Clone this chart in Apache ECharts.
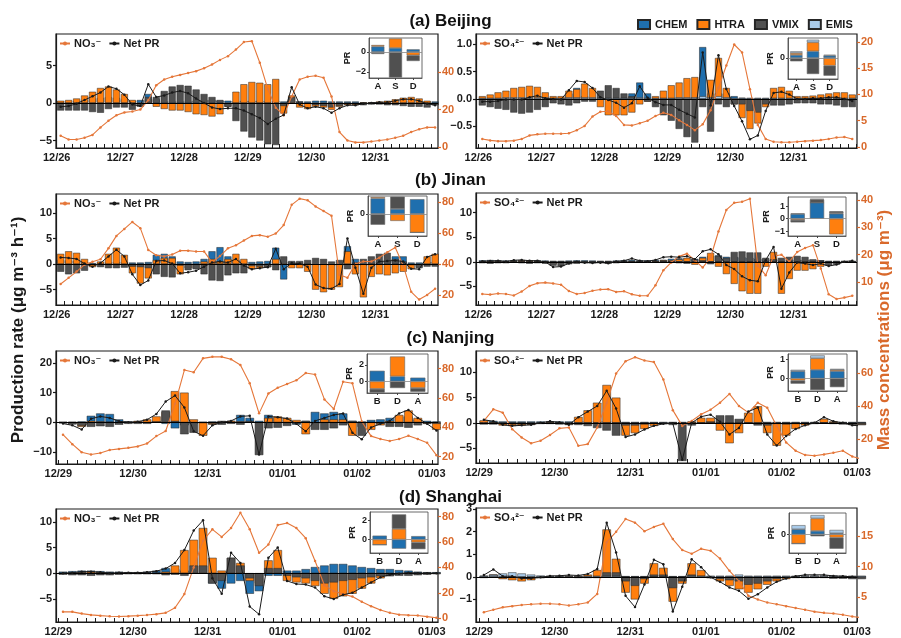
<!DOCTYPE html>
<html>
<head>
<meta charset="utf-8">
<script src="https://cdn.jsdelivr.net/npm/echarts@6/dist/echarts.min.js"></script>
<style>
html,body{margin:0;padding:0;background:#fff;}
#chart{width:901px;height:638px;}
</style>
</head>
<body>
<div id="chart"></div>
<script>
// ---------- tick labels ----------
const DAYS_DEC26 = ['12/26','12/27','12/28','12/29','12/30','12/31'];
const DAYS_DEC29 = ['12/29','12/30','12/31','01/01','01/02','01/03'];
const SITES_NORTH = ['A','S','D'];
const SITES_SOUTH = ['B','D','A'];

// ---------- Beijing, 3-hourly process rates (µg m-3 h-1) and mass concentration (µg m-3) ----------
const bjNo3Chem = [0.2,0.2,0.3,0.4,0.6,0.7,0.8,0.7,0.5,0.3, 0.4,1.2,0.5,0.2,0.2,0.2,0.2,0.3,0.4,0.4, 0.3,0.3,0.2,0.3,0.3,0.3,0.2,0.3,0.2,0.3, 0.2,0.2,0.3,0.3,0.2,0.2,0.2,0.2,0.1,0.1, 0.1,0.1,0.1,0.2,0.2,0.2,0.2,0.2];
const bjNo3Htra = [0.3,0.4,0.6,1.0,1.5,2.0,2.2,1.8,1.2,0.4, -0.3,0.5,-0.5,-0.8,-1.0,-1.0,-1.2,-1.5,-1.6,-1.8, -1.5,-0.5,1.5,2.5,2.8,2.7,2.5,3.2,-1.4,1.0, -0.6,-0.8,-0.5,-0.6,-0.9,-0.5,-0.3,-0.3,0.1,0.1, 0.2,0.3,0.5,0.7,0.8,0.6,0.3,-0.2];
const bjNo3Vmix = [-1.0,-1.0,-1.0,-1.0,-1.2,-1.3,-0.8,-0.6,-0.6,-0.9, -0.5,0.8,0.8,1.6,2.2,2.4,2.3,1.8,1.2,0.8, 0.4,-0.5,-2.4,-3.8,-4.6,-5.0,-5.5,-5.6,-0.4,0.8, 0.2,-0.1,-0.3,-0.4,-0.6,-0.4,-0.2,-0.2,-0.3,-0.2, -0.2,-0.3,-0.3,-0.4,-0.5,-0.5,-0.6,-0.3];
const bjNo3Conc = [6,4,4,5,6.5,10.5,14,17,18.5,19, 20,25,33,36,37.5,38.5,39.5,40.5,42,44, 46.5,48.5,52,56,56.5,45,31,21,17,27, 36,37.5,38,37,27,8,3.5,2.5,2.5,3, 3.5,4,5,6,8,9.5,10.5,10.5];

const bjSo4Chem = [0,0,0,0.01,0.01,0.01,0.01,0.01,0.01,0.01, 0.02,0.1,0.2,0.05,0.02,0.01,0.01,0.01,0.02,0.1, 0.3,0.1,0.02,0.02,0.02,0.02,0.02,0.03,0.95,0.1, 0.1,0.1,0.05,0.02,0.01,0.01,0.01,0.01,0.01,0.01, 0.01,0.01,0.01,0.01,0.01,0.01,0.01,0.01];
const bjSo4Htra = [0.05,0.08,0.12,0.15,0.2,0.22,0.24,0.22,0.12,0.05, 0.05,0.15,0.18,0.28,0.2,-0.15,-0.3,-0.3,-0.3,-0.25, -0.1,-0.05,0.05,0.15,0.25,0.3,0.38,0.4,0.0,0.35, 0.75,0.2,-0.1,-0.35,-0.55,-0.45,-0.15,0.2,0.22,0.15, 0.05,0.05,0.06,0.08,0.1,0.12,0.12,0.08];
const bjSo4Vmix = [-0.12,-0.15,-0.18,-0.2,-0.25,-0.27,-0.25,-0.2,-0.15,-0.08, -0.1,-0.12,-0.08,-0.05,-0.05,0.15,0.25,0.2,0.1,0.05, 0.0,-0.05,-0.15,-0.3,-0.4,-0.55,-0.7,-0.8,-0.15,-0.6, -0.1,-0.15,-0.1,-0.1,-0.22,-0.25,-0.1,-0.12,-0.12,-0.1, -0.08,-0.08,-0.08,-0.1,-0.1,-0.12,-0.15,-0.15];
const bjSo4Emis = [0.02,0.02,0.02,0.03,0.03,0.03,0.03,0.03,0.03,0.02, 0.02,0.03,0.03,0.03,0.03,0.02,0.02,0.02,0.02,0.02, 0.03,0.02,0.02,0.02,0.02,0.03,0.03,0.03,0.05,0.03, 0.05,0.03,0.02,0.02,0.02,0.02,0.02,0.02,0.02,0.02, 0.02,0.02,0.02,0.02,0.02,0.02,0.02,0.02];
const bjSo4Conc = [1.5,1.25,1.1,1.1,1.2,1.5,2.2,2.4,2.5,2.5, 2.5,2.6,3.2,4.0,5.8,6.7,6.8,5.9,4.2,4.1, 4.5,5.0,5.9,6.5,6.1,5.1,4.2,3.2,4.3,7.0, 11.2,15.5,19.5,18,11,4.2,1.5,1.0,0.9,0.9, 1.0,1.1,1.2,1.3,1.5,1.8,1.9,1.5];

// ---------- Jinan ----------
const jnNo3Chem = [0.8,0.7,0.6,0.4,0.2,0.3,0.3,0.4,0.4,0.3, 0.3,0.4,1.8,2.0,1.5,0.5,0.4,0.5,1.0,2.5, 3.3,1.5,0.8,0.5,0.4,0.5,0.6,3.2,-3.0,0.4, 0.3,0.2,-0.2,-0.2,-0.3,-0.2,3.5,1.0,-0.3,0.3, 0.5,0.6,1.5,1.5,0.3,0.3,0.4,0.4];
const jnNo3Htra = [2.0,2.5,2.2,1.0,-0.6,0.5,2.0,3.2,1.8,-1.8, -3.8,-2.8,0.8,1.2,1.2,-2.0,-0.8,-0.8,0.5,1.0, 0.5,1.0,2.0,1.0,-1.0,-0.8,-0.6,1.0,0.5,-0.8, -0.8,-1.5,-5.0,-5.5,-5.0,-4.5,2.5,-2.0,-6.5,-2.5, -2.0,-2.2,-1.8,-1.5,-1.0,-0.5,1.5,2.0];
const jnNo3Vmix = [-1.5,-2.0,-1.8,-1.3,-0.1,-0.6,-0.8,-0.8,-0.7,-0.5, -0.6,-0.8,-2.0,-2.5,-2.6,-0.3,-1.2,-1.0,-2.0,-3.2, -3.3,-2.2,-1.8,-1.8,-0.4,-0.5,-0.6,-1.2,1.5,0.6, 0.6,0.8,1.2,1.0,0.5,0.8,-1.0,0.3,1.0,1.5, 2.0,2.2,1.0,0.5,-0.2,-0.8,-0.5,-0.5];
const jnNo3Conc = [27,31,35,39.5,41.3,43,50,58,62.5,67, 63,49,45.5,44.8,46,48.5,48.5,48,48,41, 45,50,52,55,58,58.5,57.5,59.5,65,78, 82,81,77,74,71,33,31,40,41.5,41.5, 44,47.5,50.5,39,22,17,20,24];

const jnSo4Chem = [0.3,0.35,0.3,0.25,0.3,0.35,0.3,0.3,0.25,0.2, 0.2,0.25,0.3,0.3,0.25,0.2,0.2,0.25,0.3,0.35, 0.3,0.3,0.35,0.4,0.6,0.7,0.7,0.6,1.0,1.2, 1.3,1.0,1.0,0.9,0.8,0.6,0.5,0.5,0.2,0.3, 0.4,0.4,0.3,0.3,0.2,0.2,0.2,0.2];
const jnSo4Htra = [0.1,0.2,0.2,0.1,0.2,0.3,0.3,0.2,0.1,-0.5, -0.3,-0.1,0.1,-0.2,-0.3,-0.2,-0.1,0.1,0.1,0.2, 0.0,0.0,0.2,0.3,0.3,0.5,0.8,-0.6,0.8,1.8, -1.0,-2.5,-4.5,-6.0,-6.5,-6.5,-1.0,2.0,-6.5,-3.5, -1.8,-1.8,-1.5,-1.0,-0.3,-0.2,0.0,0.1];
const jnSo4Vmix = [-0.3,-0.4,-0.3,-0.3,-0.2,-0.3,-0.4,-0.3,-0.4,-0.8, -0.9,-0.5,-0.4,-0.3,-0.2,-0.2,-0.4,-0.3,-0.2,0.1, -0.1,-0.2,-0.2,0.2,0.1,-0.3,-0.4,0.5,0.3,-0.5, 1.2,0.8,2.0,2.1,1.9,1.9,0.8,0.5,0.8,1.0, 1.2,1.0,0.5,0.3,-0.8,-0.6,-0.2,-0.1];
const jnSo4Emis = [0.02,0.02,0.02,0.02,0.02,0.02,0.02,0.02,0.02,0.02, 0.02,0.02,0.02,0.02,0.02,0.02,0.02,0.02,0.02,0.02, 0.02,0.02,0.02,0.03,0.03,0.03,0.03,0.03,0.03,0.03, 0.03,0.03,0.03,0.03,0.03,0.03,0.03,0.03,0.03,0.03, 0.03,0.03,0.03,0.03,0.02,0.02,0.02,0.02];
const jnSo4Conc = [5.6,5.4,5.8,5.6,5.1,6.5,8.6,9.6,9.8,9.5, 9.0,6.7,5.6,6.0,6.8,7.3,7.4,6.4,6.6,5.5, 5.0,5.0,8.8,14.3,17.2,19.4,20.4,18.0,15.3,19, 28.5,36.4,39,39.4,40.5,16,12.5,19.5,20,17.5, 21,22.5,23.5,15,5.5,3.8,4.3,5.0];

// ---------- Nanjing ----------
const njNo3Chem = [0.2,0.2,0.3,2.2,3.0,2.8,1.0,0.3,0.2,0.4, 0.5,-0.5,-2.0,-1.0,-0.5,0.2,0.3,0.5,0.5,2.5, 1.5,0.5,2.5,1.5,1.0,-0.8,0.5,3.5,3.0,3.5, 3.0,0.5,0.3,0.8,1.0,1.5,2.0,2.0,1.0,0.5, 0.3];
const njNo3Htra = [-0.3,-0.5,-1.5,0.5,0.3,0.2,0.2,0.2,0.5,1.0, 2.0,3.5,10.5,10.0,1.0,-4.5,-0.8,0.3,0.5,0.3, 0.2,-0.3,1.5,2.0,1.5,0.8,-4.0,-0.5,1.0,1.0, 1.0,-4.5,-1.5,-2.5,-1.0,0.5,2.5,4.0,1.5,-0.5, -2.5];
const njNo3Vmix = [-0.3,-0.7,-1.2,-1.5,-1.3,-1.5,-0.8,-0.5,-0.5,-0.5, 0.3,4.0,0.5,-4.0,-3.5,-0.2,-0.5,-0.8,-0.5,-0.8, 0.5,-11.0,-2.0,-1.8,-1.2,-0.5,0.5,-2.5,-2.5,-2.0, -1.0,0.5,-4.5,0.0,-0.5,-1.5,-1.5,-1.8,-1.0,-0.5, -0.5];
const njNo3Conc = [35,28.5,23,21.5,22.5,24.5,25.3,26,27,29, 34,37.5,56,79,77.5,87,88,88,86.4,82.5, 70,49.5,63,67,69.5,72,77,76,59,52.5, 71,70,44,34,32,30.7,32,34.3,32,29.5, 21];

const njSo4Chem = [0.4,0.4,0.3,0.3,0.3,0.3,0.3,0.3,0.3,0.3, 0.3,0.3,0.3,0.3,0.3,0.2,0.2,0.2,0.2,0.2, 0.2,0.2,0.2,0.2,0.3,0.2,0.2,0.2,0.2,0.2, 0.2,0.2,0.2,0.2,0.2,0.2,0.2,0.2,0.2,0.2, 0.2];
const njSo4Htra = [0.5,0.2,-0.5,-0.6,-0.5,-0.4,-0.1,0.2,0.1,-0.3, 1.2,2.5,4.0,7.5,5.0,-2.5,-2.0,-1.2,-0.6,-0.2, 0.1,0.0,0.3,1.0,1.0,-1.5,-4.0,-2.0,2.0,3.3, -2.0,-4.5,-2.5,-1.2,-0.5,0.0,0.8,0.3,0.1,-0.3, -0.4];
const njSo4Vmix = [-0.3,-0.3,-0.2,-0.3,-0.3,-0.3,-0.2,-0.2,-0.3,-0.4, -0.4,-0.6,-1.0,-1.5,-2.5,-0.5,-0.5,-0.3,-0.2,-0.2, -0.4,-7.5,-0.5,0.0,0.3,1.5,1.5,0.8,0.0,-0.5, -0.5,-0.2,-0.3,-0.2,-0.2,-0.2,0.1,-0.2,-0.3,-0.4, -0.4];
const njSo4Emis = [0.03,0.03,0.03,0.03,0.03,0.03,0.03,0.03,0.03,0.03, 0.04,0.04,0.05,0.05,0.05,0.03,0.03,0.03,0.03,0.03, 0.03,0.03,0.03,0.04,0.04,0.03,0.03,0.03,0.04,0.04, 0.03,0.03,0.03,0.03,0.03,0.03,0.04,0.03,0.03,0.03, 0.03];
const njSo4Conc = [31,38,36,26,21,17.5,19,22.5,26.5,27, 16,17,27,42,59.6,67,69.5,67.5,66.5,56, 37.5,28,31,35,37.8,42,47.3,40,36,42, 39,28,18,13,10.5,10,10.8,11.8,13,9.5, 8];

// ---------- Shanghai ----------
const shNo3Chem = [0.3,0.4,0.5,0.5,0.4,0.3,0.3,0.2,0.2,0.3, 0.5,1.0,0.8,0.5,0.3,0.0,-2.0,-3.0,-2.0,-1.5, -4.0,-3.5,-0.5,-0.5,0.5,0.5,0.8,1.2,1.5,1.8, 1.8,1.5,1.2,1.0,0.8,0.8,0.6,0.5,0.3,0.2, 0.2];
const shNo3Htra = [0.0,0.1,0.2,0.3,0.2,0.1,0.1,0.1,0.1,0.1, 0.1,0.3,1.5,4.5,6.5,8.8,3.0,0.5,3.0,2.0, -1.5,-2.0,2.5,4.5,-1.5,-1.8,-2.0,-2.5,-4.0,-5.0, -4.5,-4.0,-3.0,-2.0,-1.0,-0.5,-0.2,0.1,0.1,0.1, 0.0];
const shNo3Vmix = [-0.3,-0.4,-0.4,-0.5,-0.4,-0.4,-0.3,-0.2,-0.2,-0.2, -0.2,-0.4,-0.3,-0.5,1.5,1.5,-2.0,-1.5,3.0,1.5, -1.0,-2.5,1.0,1.0,-0.5,-0.8,-1.0,-1.5,-2.0,-1.8, -1.5,-1.3,-1.0,-0.8,-0.6,-0.6,-0.5,-0.5,-0.4,-0.3, -0.2];
const shNo3Conc = [5,5,3.6,2.6,2.0,1.5,1.3,1.6,2.0,2.5, 3.2,4.2,8.2,19,40,61,70,64,71,83, 70,51.5,58,73.3,75,71,63,45,26,21.3, 19,17,13,9.5,6.5,4.3,2.8,2.4,2.1,1.2, 0.3];

const shSo4Chem = [0.05,0.05,0.03,0.03,0.03,0.03,0.02,0.02,0.02,0.02, 0.02,0.03,0.05,0.05,0.03,0.03,0.03,0.03,0.03,0.03, 0.03,0.03,0.03,0.03,0.03,0.03,0.03,0.03,0.03,0.03, 0.03,0.03,0.03,0.03,0.03,0.03,0.03,0.03,0.03,0.03, 0.03];
const shSo4Htra = [0.03,0.1,-0.1,-0.15,-0.2,-0.15,-0.05,0.0,0.02,0.05, 0.05,0.1,0.3,2.1,0.8,-0.7,-1.0,-0.3,0.6,0.4, -1.1,-0.3,0.6,0.3,-0.05,-0.2,-0.4,-0.55,-0.7,-0.55, -0.35,-0.2,-0.1,0.0,0.05,0.05,0.05,0.03,0.03,0.02, 0.0];
const shSo4Vmix = [-0.05,0.1,-0.05,-0.05,-0.05,-0.05,-0.05,-0.03,-0.03,-0.03, -0.05,-0.05,-0.05,0.2,0.2,-0.2,-0.4,-0.1,0.1,0.1, -0.5,-0.2,0.1,0.05,-0.05,-0.1,-0.15,-0.2,-0.35,-0.3, -0.2,-0.1,-0.05,-0.05,-0.05,-0.05,-0.05,-0.08,-0.08,-0.1, -0.1];
const shSo4Emis = [0.05,0.08,0.15,0.2,0.15,0.1,0.06,0.05,0.04,0.04, 0.04,0.05,0.05,0.05,0.05,0.03,0.03,0.03,0.03,0.03, 0.03,0.03,0.05,0.05,0.05,0.05,0.05,0.1,0.05,0.05, 0.05,0.05,0.05,0.05,0.06,0.06,0.06,0.06,0.05,0.05, 0.05];
const shSo4Conc = [2.5,2.9,3.3,3.5,3.7,3.8,3.9,3.9,3.8,3.6, 3.8,4.1,5.5,14.0,15.7,17.8,17.2,15.8,16.5,17, 14.5,12.7,12.1,12.9,12.6,11.3,9.3,7.6,5.2,4.6, 4.1,3.8,3.5,3.2,2.9,2.6,2.4,2.3,2.1,1.8, 1.6];

// ---------- episode-averaged process rates by site ----------
const bjNo3InsChem = [0.55,0.4,0.27],  bjNo3InsHtra = [0.15,0.95,-0.33], bjNo3InsVmix = [-0.2,-2.55,-0.57];
const bjSo4InsChem = [0.3,0.67,0.23],  bjSo4InsHtra = [0.2,0.9,-0.77],   bjSo4InsVmix = [-0.33,-1.6,-1.0], bjSo4InsEmis = [0.17,0.26,0.1];
const jnNo3InsChem = [1.47,0.47,1.4],  jnNo3InsHtra = [0.13,-0.67,-1.77], jnNo3InsVmix = [-1.03,1.17,0];
const jnSo4InsChem = [0.38,1.3,0.4],   jnSo4InsHtra = [-0.1,0,-1.27],     jnSo4InsVmix = [-0.2,0.25,0.15], jnSo4InsEmis = [0.05,0.05,0.05];
const njNo3InsChem = [1.28,0.6,0.45],  njNo3InsHtra = [-0.9,2.4,-0.8],    njNo3InsVmix = [-0.45,-0.8,-0.45];
const njSo4InsChem = [0.38,0.45,0.38], njSo4InsHtra = [-0.11,0.6,0.07],   njSo4InsVmix = [-0.16,-0.6,-0.45], njSo4InsEmis = [0.07,0.15,0.05];
const shNo3InsChem = [0.4,-0.95,0.35], shNo3InsHtra = [-0.55,1.1,-0.3],   shNo3InsVmix = [0,1.5,-0.7];
const shSo4InsChem = [0.5,0.33,0.1],   shSo4InsHtra = [-0.93,1.24,-0.33], shSo4InsVmix = [0,-0.2,-1.1], shSo4InsEmis = [0.4,0.33,0.33];

// ---------- time stamps (hours from first midnight, 3-h bins) ----------
const hours6d = []; for (let k = 0; k < 48; k++) hours6d.push(1.5 + 3 * k);
const hours5d = []; for (let k = 0; k < 41; k++) hours5d.push(1.5 + 3 * k);

// ---------- layout and styling ----------
const FONT = '"Liberation Sans","DejaVu Sans",Arial,sans-serif';
const INK = '#1a1a1a';
const ORANGE_AXIS = '#d9692b';
const CONC_COLOR = '#e5773a';
const PART_NAMES = ['CHEM','HTRA','VMIX','EMIS'];
const PART_COLORS = ['#1f6fae','#ff7f0e','#505050','#a9cbea'];
const NO3 = 'NO\u2083\u207B';
const SO4 = 'SO\u2084\u00B2\u207B';

const panels = [
  { grid:[56,34,382,114], hours:hours6d, x:[-0.25,143.6], days:DAYS_DEC26, pr:[-6,9.2], prTicks:[-5,0,5], dec:0,
    mc:[-0.5,60.3], mcTicks:[0,20,40], species:NO3, barW:7,
    parts:[bjNo3Chem,bjNo3Htra,bjNo3Vmix,null], conc:bjNo3Conc,
    inset:{ grid:[369,38,53,40], cats:SITES_NORTH, pr:[-2.6,1.4], ticks:[-2,0], gap:17,
            parts:[bjNo3InsChem,bjNo3InsHtra,bjNo3InsVmix,null] } },
  { grid:[476,34,381,114], hours:hours6d, x:[-0.9,144.3], days:DAYS_DEC26, pr:[-0.9,1.19], prTicks:[-0.5,0,0.5,1], dec:1,
    mc:[-0.2,21.5], mcTicks:[0,5,10,15,20], species:SO4, barW:7,
    parts:[bjSo4Chem,bjSo4Htra,bjSo4Vmix,bjSo4Emis], conc:bjSo4Conc,
    inset:{ grid:[788,38,50,41], cats:SITES_NORTH, pr:[-2.1,2.0], ticks:[0], gap:13,
            parts:[bjSo4InsChem,bjSo4InsHtra,bjSo4InsVmix,bjSo4InsEmis] } },
  { grid:[56,194,382,111], hours:hours6d, x:[-0.25,143.6], days:DAYS_DEC26, pr:[-8,13.7], prTicks:[-5,0,5,10], dec:0,
    mc:[13.5,85], mcTicks:[20,40,60,80], species:NO3, barW:7,
    parts:[jnNo3Chem,jnNo3Htra,jnNo3Vmix,null], conc:jnNo3Conc,
    inset:{ grid:[368,196,59,40], cats:SITES_NORTH, pr:[-2.1,1.7], ticks:[0], gap:13,
            parts:[jnNo3InsChem,jnNo3InsHtra,jnNo3InsVmix,null] } },
  { grid:[476,193,381,112], hours:hours6d, x:[-0.9,144.3], days:DAYS_DEC26, pr:[-8.8,14], prTicks:[-5,0,5,10], dec:0,
    mc:[1.6,42.6], mcTicks:[10,20,30,40], species:SO4, barW:7,
    parts:[jnSo4Chem,jnSo4Htra,jnSo4Vmix,jnSo4Emis], conc:jnSo4Conc,
    inset:{ grid:[788,197,58,39], cats:SITES_NORTH, pr:[-1.4,1.75], ticks:[-1,0,1], gap:17,
            parts:[jnSo4InsChem,jnSo4InsHtra,jnSo4InsVmix,jnSo4InsEmis] } },
  { grid:[56,351,382,113], hours:hours5d, x:[-0.75,122], days:DAYS_DEC29, pr:[-14,24], prTicks:[-10,0,10,20], dec:0,
    mc:[15,92], mcTicks:[20,40,60,80], species:NO3, barW:8.5,
    parts:[njNo3Chem,njNo3Htra,njNo3Vmix,null], conc:njNo3Conc,
    inset:{ grid:[367,354,61,39], cats:SITES_SOUTH, pr:[-1.4,3.3], ticks:[0,2], gap:13,
            parts:[njNo3InsChem,njNo3InsHtra,njNo3InsVmix,null] } },
  { grid:[476,351,381,112], hours:hours5d, x:[-1,120], days:DAYS_DEC29, pr:[-7.9,14.2], prTicks:[-5,0,5,10], dec:0,
    mc:[5.6,73.2], mcTicks:[20,40,60], species:SO4, barW:8.5,
    parts:[njSo4Chem,njSo4Htra,njSo4Vmix,njSo4Emis], conc:njSo4Conc,
    inset:{ grid:[788,354,59,37], cats:SITES_SOUTH, pr:[-0.65,1.27], ticks:[0,1], gap:13,
            parts:[njSo4InsChem,njSo4InsHtra,njSo4InsVmix,njSo4InsEmis] } },
  { grid:[56,509,382,113], hours:hours5d, x:[-0.75,122], days:DAYS_DEC29, pr:[-9.5,12.5], prTicks:[-5,0,5,10], dec:0,
    mc:[-3,86], mcTicks:[0,20,40,60,80], species:NO3, barW:8.5,
    parts:[shNo3Chem,shNo3Htra,shNo3Vmix,null], conc:shNo3Conc,
    inset:{ grid:[370,512,58,41], cats:SITES_SOUTH, pr:[-1.4,2.85], ticks:[0,2], gap:13,
            parts:[shNo3InsChem,shNo3InsHtra,shNo3InsVmix,null] } },
  { grid:[476,508,381,114], hours:hours5d, x:[-1,120], days:DAYS_DEC29, pr:[-2.0,3.05], prTicks:[-1,0,1,2,3], dec:0,
    mc:[0.9,19.6], mcTicks:[5,10,15], species:SO4, barW:8.5,
    parts:[shSo4Chem,shSo4Htra,shSo4Vmix,shSo4Emis], conc:shSo4Conc,
    inset:{ grid:[789,513,57,40], cats:SITES_SOUTH, pr:[-1.85,2.1], ticks:[0], gap:13,
            parts:[shSo4InsChem,shSo4InsHtra,shSo4InsVmix,shSo4InsEmis] } }
];

function signed(v, dec) {
  const s = Math.abs(v).toFixed(dec);
  return v < 0 ? '\u2212' + s : s;
}
const labelFont = { fontSize: 11, fontWeight: 'bold', color: INK, fontFamily: FONT };

const grids = [], xAxes = [], yAxes = [], series = [], legends = [];

// main time-series panels
panels.forEach((p, i) => {
  grids.push({ left: p.grid[0], top: p.grid[1], width: p.grid[2], height: p.grid[3],
               show: true, borderColor: INK, borderWidth: 1.2 });
  const ticks = [];
  for (let h = Math.ceil(p.x[0] / 3) * 3; h <= p.x[1]; h += 3) ticks.push(h);
  const dayPos = p.days.map((d, j) => 24 * j).filter(v => v >= p.x[0] && v <= p.x[1]);
  xAxes.push({
    type: 'value', gridIndex: i, min: p.x[0], max: p.x[1],
    axisLine: { show: true, onZero: false, lineStyle: { color: INK, width: 1.2 } },
    axisTick: { show: true, inside: true, length: 4, customValues: ticks, lineStyle: { color: INK, width: 1 } },
    axisLabel: Object.assign({ customValues: dayPos, formatter: v => p.days[Math.round(v / 24)], margin: 4 }, labelFont),
    splitLine: { show: false }
  });
  yAxes.push({
    type: 'value', gridIndex: i, position: 'left', min: p.pr[0], max: p.pr[1],
    axisLine: { show: true, onZero: false, lineStyle: { color: INK, width: 1.2 } },
    axisTick: { show: true, length: 3, customValues: p.prTicks, lineStyle: { color: INK, width: 1.2 } },
    axisLabel: Object.assign({ customValues: p.prTicks, formatter: v => signed(v, p.dec), margin: 4 }, labelFont),
    splitLine: { show: false }
  });
  yAxes.push({
    type: 'value', gridIndex: i, position: 'right', min: p.mc[0], max: p.mc[1],
    axisLine: { show: false, onZero: false },
    axisTick: { show: true, length: 3, customValues: p.mcTicks, lineStyle: { color: ORANGE_AXIS, width: 1.2 } },
    axisLabel: Object.assign({}, labelFont, { customValues: p.mcTicks, color: ORANGE_AXIS, margin: 4 }),
    splitLine: { show: false }
  });

  // net production rate = sum of the process terms
  const net = p.hours.map((h, k) => p.parts.reduce((s, arr) => s + (arr ? arr[k] : 0), 0));

  p.parts.forEach((arr, j) => {
    if (!arr) return;
    series.push({
      type: 'bar', name: PART_NAMES[j], xAxisIndex: i, yAxisIndex: 2 * i, stack: 'main' + i,
      barWidth: p.barW, silent: true, z: 2,
      data: p.hours.map((h, k) => [h, arr[k]]),
      itemStyle: { color: PART_COLORS[j], borderColor: '#262626', borderWidth: 0.5 }
    });
  });
  series.push({
    type: 'line', name: p.species, xAxisIndex: i, yAxisIndex: 2 * i + 1, z: 4, silent: true,
    data: p.hours.map((h, k) => [h, p.conc[k]]),
    symbol: 'circle', symbolSize: 2.5,
    lineStyle: { color: CONC_COLOR, width: 1.1 }, itemStyle: { color: CONC_COLOR }
  });
  series.push({
    type: 'line', name: 'Net PR', xAxisIndex: i, yAxisIndex: 2 * i, z: 5, silent: true,
    data: p.hours.map((h, k) => [h, Math.round(net[k] * 1000) / 1000]),
    symbol: 'circle', symbolSize: 2.5,
    lineStyle: { color: INK, width: 1 }, itemStyle: { color: INK },
    markLine: { silent: true, symbol: ['none', 'none'], label: { show: false },
                lineStyle: { color: '#000', width: 1, type: 'solid' }, data: [{ yAxis: 0 }] }
  });

  legends.push({
    data: [p.species, 'Net PR'], left: p.grid[0] + 3, top: p.grid[1] + 4,
    itemWidth: 10, itemHeight: 5, itemGap: 7, selectedMode: false, padding: 0,
    textStyle: { fontSize: 11, fontWeight: 'bold', color: INK, fontFamily: FONT, padding: [0, 0, 0, -1] }
  });
});

// small stacked bars of site-averaged rates
panels.forEach((p, i) => {
  const q = p.inset, g = 8 + i;
  grids.push({ left: q.grid[0], top: q.grid[1], width: q.grid[2], height: q.grid[3],
               show: true, borderColor: '#444', borderWidth: 0.8 });
  xAxes.push({
    type: 'category', gridIndex: g, data: q.cats,
    axisLine: { show: true, onZero: false, lineStyle: { color: '#444', width: 0.8 } },
    axisTick: { show: true, alignWithLabel: true, length: 2, lineStyle: { color: '#444' } },
    axisLabel: { fontSize: 9.5, fontWeight: 'bold', color: INK, fontFamily: FONT, margin: 3 }
  });
  yAxes.push({
    type: 'value', gridIndex: g, min: q.pr[0], max: q.pr[1],
    name: 'PR', nameLocation: 'middle', nameGap: q.gap, nameRotate: 90,
    nameTextStyle: { fontSize: 9, fontWeight: 'bold', color: INK, fontFamily: FONT },
    axisLine: { show: true, onZero: false, lineStyle: { color: '#444', width: 0.8 } },
    axisTick: { show: true, length: 2, customValues: q.ticks, lineStyle: { color: '#444' } },
    axisLabel: { customValues: q.ticks, formatter: v => signed(v, 0), fontSize: 9, fontWeight: 'bold',
                 color: INK, fontFamily: FONT, margin: 3 },
    splitLine: { show: false }
  });
  let first = true;
  q.parts.forEach((arr, j) => {
    if (!arr) return;
    const s = {
      type: 'bar', name: PART_NAMES[j], xAxisIndex: g, yAxisIndex: 16 + i, stack: 'inset' + i,
      barWidth: '74%', silent: true, data: arr,
      itemStyle: { color: PART_COLORS[j], borderColor: '#666', borderWidth: 0.6 }
    };
    if (first) {
      s.markLine = { silent: true, symbol: ['none', 'none'], label: { show: false },
                     lineStyle: { color: '#888', width: 0.8, type: 'solid' }, data: [{ yAxis: 0 }] };
      first = false;
    }
    series.push(s);
  });
});

legends.push({
  data: PART_NAMES, left: 637, top: 19, icon: 'rect', itemWidth: 12, itemHeight: 9, itemGap: 9,
  selectedMode: false, padding: 0,
  textStyle: { fontSize: 11, fontWeight: 'bold', color: INK, fontFamily: FONT }
});

const titleStyle = { fontSize: 17, fontWeight: 'bold', color: '#111', fontFamily: FONT };
const option = {
  animation: false,
  backgroundColor: '#fff',
  title: [
    { text: '(a) Beijing',  left: 'center', top: 8,   textStyle: titleStyle },
    { text: '(b) Jinan',    left: 'center', top: 167, textStyle: titleStyle },
    { text: '(c) Nanjing',  left: 'center', top: 325, textStyle: titleStyle },
    { text: '(d) Shanghai', left: 'center', top: 484, textStyle: titleStyle }
  ],
  legend: legends,
  grid: grids,
  xAxis: xAxes,
  yAxis: yAxes,
  series: series,
  graphic: [
    { type: 'text', x: 18, y: 330, rotation: Math.PI / 2,
      style: { text: 'Production rate (\u03BCg m\u207B\u00B3 h\u207B\u00B9)', font: 'bold 17px ' + FONT, fill: INK,
               textAlign: 'center', textVerticalAlign: 'middle', align: 'center', verticalAlign: 'middle' } },
    { type: 'text', x: 884, y: 330, rotation: Math.PI / 2,
      style: { text: 'Mass concentrations (\u03BCg m\u207B\u00B3)', font: 'bold 17px ' + FONT, fill: ORANGE_AXIS,
               textAlign: 'center', textVerticalAlign: 'middle', align: 'center', verticalAlign: 'middle' } }
  ]
};

const chart = echarts.init(document.getElementById('chart'), null, { renderer: 'canvas' });
chart.setOption(option);
</script>
</body>
</html>
